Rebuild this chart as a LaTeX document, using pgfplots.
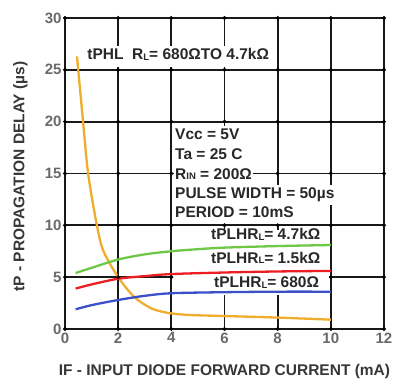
\documentclass[border=0pt]{standalone}
\usepackage{pgfplots}
\pgfplotsset{compat=1.18}
\usepackage{fontspec}
\setmainfont{Liberation Sans}
\definecolor{tickgray}{RGB}{105,105,105}
\definecolor{labgray}{RGB}{55,55,55}
\definecolor{txt}{RGB}{40,40,40}
\definecolor{corange}{RGB}{240,172,45}
\definecolor{cgreen}{RGB}{110,200,70}
\definecolor{cred}{RGB}{235,30,35}
\definecolor{cblue}{RGB}{60,80,200}
\newcommand{\sub}[1]{\raisebox{-0.8pt}{\fontsize{9.5}{9.5}\selectfont #1}}
\newcommand{\ann}{\fontsize{15.5}{17}\selectfont\bfseries}
\begin{document}
\begin{tikzpicture}
\useasboundingbox (-65pt,-53pt) rectangle (332pt,329pt);
\begin{axis}[
  at={(0,0)}, anchor=south west,
  width=319pt, height=311pt, scale only axis,
  xmin=0, xmax=12, ymin=0, ymax=30,
  xtick={0,2,...,12}, ytick={0,5,...,30},
  grid=major,
  major grid style={black!90, line width=1.7pt},
  axis line style={black!90, line width=1.8pt},
  major tick length=0pt,
  /pgf/number format/assume math mode=true,
  tick label style={font=\fontsize{15}{15}\selectfont\bfseries, text=tickgray},
  xlabel={IF - INPUT DIODE FORWARD CURRENT (mA)},
  ylabel={tP - PROPAGATION DELAY (µs)},
  label style={font=\fontsize{15.5}{16}\selectfont\bfseries, text=labgray},
  xlabel style={at={(axis description cs:0.5,-0.138)}, anchor=center},
  ylabel style={at={(axis description cs:-0.14,0.49)}, anchor=center},
]
% grid intersection dots
\addplot[only marks, mark=*, mark size=1.8pt, black] table {
x y
0 0
2 0
4 0
6 0
8 0
10 0
12 0
0 5
2 5
4 5
10 5
12 5
0 10
2 10
4 10
6 10
8 10
10 10
12 10
0 15
2 15
4 15
8 15
10 15
12 15
0 20
2 20
4 20
6 20
8 20
10 20
12 20
0 25
2 25
4 25
6 25
8 25
10 25
12 25
0 30
2 30
4 30
6 30
8 30
10 30
12 30
};
% white background behind the tPLH labels
\fill[white] (axis cs:4.08,3.3) rectangle (axis cs:9.92,9.55);
% annotations
\node[anchor=west, fill=white, inner xsep=1pt, text height=12pt, text depth=5pt, inner ysep=2pt, text=txt, font=\ann] at (axis cs:0.8,26.3) {tPHL\ \ R\sub{L}= 680ΩTO 4.7kΩ};
\node[anchor=west, fill=white, inner xsep=1pt, text height=12pt, text depth=4pt, inner ysep=2pt, text=txt, font=\ann] at (axis cs:4.1,18.65) {Vcc = 5V};
\node[anchor=west, fill=white, inner xsep=1pt, text height=12pt, text depth=4pt, inner ysep=2pt, text=txt, font=\ann] at (axis cs:4.1,16.75) {Ta = 25 C};
\node[anchor=west, fill=white, inner xsep=1pt, text height=12pt, text depth=4pt, inner ysep=2pt, text=txt, font=\ann] at (axis cs:4.1,14.85) {R\sub{IN} = 200Ω};
\node[anchor=west, fill=white, inner xsep=1pt, text height=12pt, text depth=4pt, inner ysep=2pt, text=txt, font=\ann] at (axis cs:4.1,12.95) {PULSE WIDTH = 50µs};
\node[anchor=west, fill=white, inner xsep=1pt, text height=12pt, text depth=4pt, inner ysep=2pt, text=txt, font=\ann] at (axis cs:4.1,11.1) {PERIOD = 10mS};
\node[anchor=east, inner xsep=1pt, text=txt, font=\ann] at (axis cs:9.65,9.1) {tPLHR\sub{L}= 4.7kΩ};
\node[anchor=east, inner xsep=1pt, text=txt, font=\ann] at (axis cs:9.65,6.85) {tPLHR\sub{L}= 1.5kΩ};
\node[anchor=east, inner xsep=1pt, text=txt, font=\ann] at (axis cs:9.6,4.45) {tPLHR\sub{L}= 680Ω};
% curves
\addplot[corange, line width=2.3pt, smooth] coordinates {
(0.45,26.3) (0.68,20) (0.87,15) (1.2,10) (1.45,7.5) (2.0,5.0) (2.6,3.1) (3.2,2.05) (3.6,1.7) (4.0,1.5) (4.5,1.38) (5.0,1.32) (6,1.25) (8,1.1) (10,0.9)};
\addplot[cgreen, line width=2.3pt, smooth] coordinates {
(0.4,5.4) (1,5.9) (2,6.7) (3,7.2) (4,7.5) (5,7.7) (6,7.85) (8,8.0) (10,8.1)};
\addplot[cred, line width=2.3pt, smooth] coordinates {
(0.4,3.9) (1,4.3) (2,4.85) (3,5.1) (4,5.3) (6,5.45) (8,5.55) (10,5.6)};
\addplot[cblue, line width=2.3pt, smooth] coordinates {
(0.4,1.9) (1,2.3) (2,2.8) (3,3.2) (4,3.45) (6,3.55) (8,3.6) (10,3.6)};
\end{axis}
\end{tikzpicture}
\end{document}
